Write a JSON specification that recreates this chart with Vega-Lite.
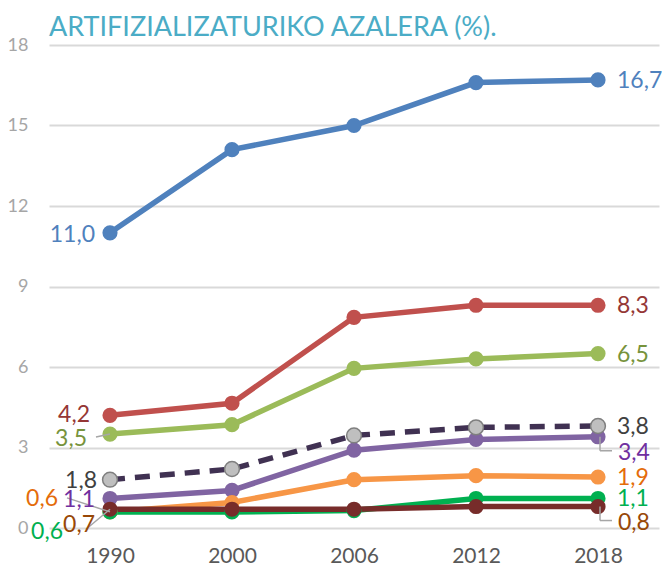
{
  "$schema": "https://vega.github.io/schema/vega-lite/v6.json",
  "width": 610,
  "height": 483,
  "autosize": "none",
  "padding": {"left": 49, "top": 45, "right": 3, "bottom": 41},
  "background": "white",
  "config": {
    "view": {"stroke": null},
    "locale": {"number": {"decimal": ",", "thousands": ".", "grouping": [3], "currency": ["", " €"]}},
    "font": "Lato"
  },
  "title": {
    "text": "ARTIFIZIALIZATURIKO AZALERA (%).",
    "anchor": "start",
    "frame": "group",
    "color": "#4bacc6",
    "font": "Lato",
    "fontSize": 27,
    "fontWeight": "normal",
    "offset": -6
  },
  "data": {
    "values": [
      {"serie": "s1", "year": "1990", "v": 11.0},
      {"serie": "s1", "year": "2000", "v": 14.1},
      {"serie": "s1", "year": "2006", "v": 15.0},
      {"serie": "s1", "year": "2012", "v": 16.6},
      {"serie": "s1", "year": "2018", "v": 16.7},
      {"serie": "s2", "year": "1990", "v": 4.2},
      {"serie": "s2", "year": "2000", "v": 4.65},
      {"serie": "s2", "year": "2006", "v": 7.85},
      {"serie": "s2", "year": "2012", "v": 8.3},
      {"serie": "s2", "year": "2018", "v": 8.3},
      {"serie": "s3", "year": "1990", "v": 3.5},
      {"serie": "s3", "year": "2000", "v": 3.85},
      {"serie": "s3", "year": "2006", "v": 5.95},
      {"serie": "s3", "year": "2012", "v": 6.3},
      {"serie": "s3", "year": "2018", "v": 6.5},
      {"serie": "s4", "year": "1990", "v": 1.8},
      {"serie": "s4", "year": "2000", "v": 2.2},
      {"serie": "s4", "year": "2006", "v": 3.45},
      {"serie": "s4", "year": "2012", "v": 3.75},
      {"serie": "s4", "year": "2018", "v": 3.8},
      {"serie": "s5", "year": "1990", "v": 1.1},
      {"serie": "s5", "year": "2000", "v": 1.4},
      {"serie": "s5", "year": "2006", "v": 2.9},
      {"serie": "s5", "year": "2012", "v": 3.3},
      {"serie": "s5", "year": "2018", "v": 3.4},
      {"serie": "s6", "year": "1990", "v": 0.6},
      {"serie": "s6", "year": "2000", "v": 0.95},
      {"serie": "s6", "year": "2006", "v": 1.8},
      {"serie": "s6", "year": "2012", "v": 1.95},
      {"serie": "s6", "year": "2018", "v": 1.9},
      {"serie": "s7", "year": "1990", "v": 0.6},
      {"serie": "s7", "year": "2000", "v": 0.6},
      {"serie": "s7", "year": "2006", "v": 0.65},
      {"serie": "s7", "year": "2012", "v": 1.1},
      {"serie": "s7", "year": "2018", "v": 1.1},
      {"serie": "s8", "year": "1990", "v": 0.7},
      {"serie": "s8", "year": "2000", "v": 0.7},
      {"serie": "s8", "year": "2006", "v": 0.7},
      {"serie": "s8", "year": "2012", "v": 0.8},
      {"serie": "s8", "year": "2018", "v": 0.8}
    ]
  },
  "encoding": {
    "x": {
      "field": "year", "type": "ordinal",
      "scale": {"type": "point", "padding": 0.5},
      "axis": {"title": null, "domain": false, "ticks": false, "grid": false, "labelAngle": 0, "labelPadding": 17, "labelFont": "Lato", "labelFontSize": 21, "labelColor": "#595959"}
    },
    "y": {
      "field": "v", "type": "quantitative",
      "scale": {"domain": [0, 18], "nice": false, "zero": true},
      "axis": {"title": null, "domain": false, "ticks": false, "values": [0, 3, 6, 9, 12, 15, 18], "grid": true, "gridColor": "#d9d9d9", "gridWidth": 2, "labelPadding": 21, "labelFont": "Lato", "labelFontSize": 18, "labelColor": "#a6a6a6"}
    }
  },
  "layer": [
    {
      "transform": [{"filter": "datum.serie != 's4'"}],
      "mark": {"type": "line", "strokeWidth": 5.5},
      "encoding": {
        "stroke": {"field": "serie", "type": "nominal", "legend": null,
          "scale": {"domain": ["s1", "s2", "s3", "s5", "s6", "s7", "s8"], "range": ["#4f81bd", "#c0504d", "#9bbb59", "#8064a2", "#f79646", "#00b050", "#772c2a"]}}
      }
    },
    {
      "transform": [{"filter": "datum.serie == 's4'"}],
      "mark": {"type": "line", "strokeWidth": 5.5, "color": "#403152", "strokeDash": [15, 10]},
      "encoding": {}
    },
    {
      "transform": [{"filter": "datum.serie != 's4'"}],
      "mark": {"type": "point", "filled": true, "opacity": 1, "size": 230, "shape": "circle"},
      "encoding": {
        "fill": {"field": "serie", "type": "nominal", "legend": null,
          "scale": {"domain": ["s1", "s2", "s3", "s5", "s6", "s7", "s8"], "range": ["#4f81bd", "#c0504d", "#9bbb59", "#8064a2", "#f79646", "#00b050", "#772c2a"]}}
      }
    },
    {
      "transform": [{"filter": "datum.serie == 's4'"}],
      "mark": {"type": "point", "filled": true, "opacity": 1, "size": 220, "shape": "circle", "fill": "#bfbfbf", "stroke": "#7f7f7f", "strokeWidth": 1.5}
    },
    {
      "transform": [{"filter": "datum.year == '1990' && datum.serie == 's3'"}],
      "mark": {"type": "rule", "color": "#a6a6a6", "strokeWidth": 1.5, "x2Offset": -14, "y2Offset": 3},
      "encoding": {"x2": {"field": "year"}, "y2": {"field": "v"}}
    },
    {
      "transform": [{"filter": "datum.year == '1990' && datum.serie == 's6'"}],
      "mark": {"type": "rule", "color": "#a6a6a6", "strokeWidth": 1.5, "x2Offset": -43, "y2Offset": -14},
      "encoding": {"x2": {"field": "year"}, "y2": {"field": "v"}}
    },
    {
      "transform": [{"filter": "datum.year == '1990' && datum.serie == 's8'"}],
      "mark": {"type": "rule", "color": "#a6a6a6", "strokeWidth": 1.5, "x2Offset": -24, "y2Offset": 20},
      "encoding": {"x2": {"field": "year"}, "y2": {"field": "v"}}
    },
    {
      "transform": [{"filter": "datum.year == '2018' && (datum.serie == 's5' || datum.serie == 's8')"}],
      "mark": {"type": "rule", "color": "#a6a6a6", "strokeWidth": 1.5, "xOffset": 2, "x2Offset": 2, "y2Offset": 14},
      "encoding": {"x2": {"field": "year"}, "y2": {"field": "v"}}
    },
    {
      "transform": [{"filter": "datum.year == '2018' && (datum.serie == 's5' || datum.serie == 's8')"}],
      "mark": {"type": "rule", "color": "#a6a6a6", "strokeWidth": 1.5, "xOffset": 2, "x2Offset": 14, "yOffset": 14, "y2Offset": 14},
      "encoding": {"x2": {"field": "year"}, "y2": {"field": "v"}}
    },
    {
      "layer": [
        {"transform": [{"filter": "datum.year == '1990' && (datum.serie == 's1' || datum.serie == 's5')"}],
         "mark": {"type": "text", "align": "right", "baseline": "middle", "dx": -15, "dy": 2, "fontSize": 23, "font": "Lato"}},
        {"transform": [{"filter": "datum.year == '1990' && datum.serie == 's2'"}],
         "mark": {"type": "text", "align": "right", "baseline": "middle", "dx": -20, "dy": 0, "fontSize": 23, "font": "Lato"}},
        {"transform": [{"filter": "datum.year == '1990' && datum.serie == 's3'"}],
         "mark": {"type": "text", "align": "right", "baseline": "middle", "dx": -23, "dy": 5, "fontSize": 23, "font": "Lato"}},
        {"transform": [{"filter": "datum.year == '1990' && datum.serie == 's4'"}],
         "mark": {"type": "text", "align": "right", "baseline": "middle", "dx": -13, "dy": 1, "fontSize": 23, "font": "Lato"}},
        {"transform": [{"filter": "datum.year == '1990' && datum.serie == 's6'"}],
         "mark": {"type": "text", "align": "right", "baseline": "middle", "dx": -52, "dy": -13, "fontSize": 23, "font": "Lato"}},
        {"transform": [{"filter": "datum.year == '1990' && datum.serie == 's7'"}],
         "mark": {"type": "text", "align": "right", "baseline": "middle", "dx": -47, "dy": 20, "fontSize": 23, "font": "Lato"}},
        {"transform": [{"filter": "datum.year == '1990' && datum.serie == 's8'"}],
         "mark": {"type": "text", "align": "right", "baseline": "middle", "dx": -15, "dy": 16, "fontSize": 23, "font": "Lato"}},
        {"transform": [{"filter": "datum.year == '2018' && datum.serie != 's5' && datum.serie != 's8'"}],
         "mark": {"type": "text", "align": "left", "baseline": "middle", "dx": 19, "dy": 1, "fontSize": 23, "font": "Lato"}},
        {"transform": [{"filter": "datum.year == '2018' && (datum.serie == 's5' || datum.serie == 's8')"}],
         "mark": {"type": "text", "align": "left", "baseline": "middle", "dx": 20, "dy": 16, "fontSize": 23, "font": "Lato"}}
      ],
      "encoding": {
        "text": {"field": "v", "type": "quantitative", "format": ".1f"},
        "color": {"field": "serie", "type": "nominal", "legend": null,
          "scale": {"domain": ["s1", "s2", "s3", "s4", "s5", "s6", "s7", "s8"], "range": ["#4f81bd", "#953735", "#77933c", "#404040", "#7030a0", "#e46c0a", "#00b050", "#984807"]}}
      }
    }
  ]
}
